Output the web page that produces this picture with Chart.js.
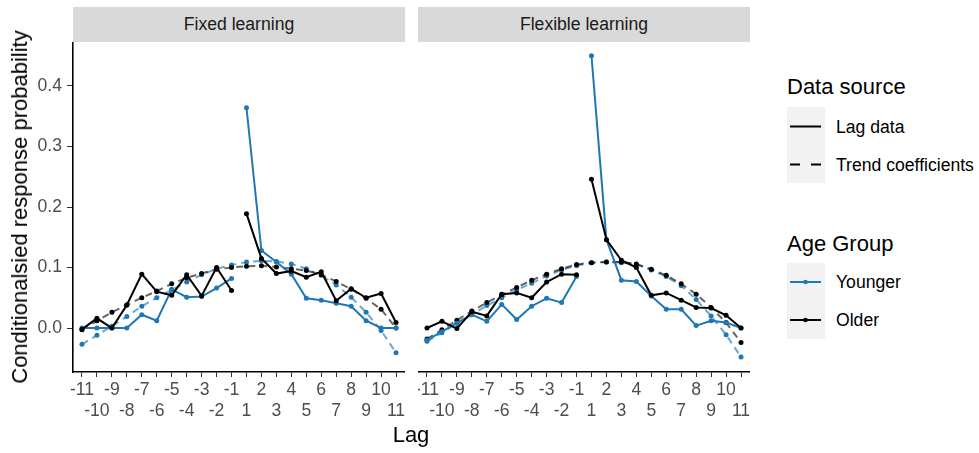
<!DOCTYPE html>
<html>
<head>
<meta charset="utf-8">
<script src="https://cdn.jsdelivr.net/npm/chart.js@4"></script>
<style>
  body { margin: 0; background: #fff; font-family: "Liberation Sans", Arial, sans-serif; }
  #wrap { position: relative; width: 979px; height: 453px; overflow: hidden; }
  .strip { position: absolute; top: 7px; height: 35px; width: 332px; background: #d9d9d9;
           color: #1a1a1a; font-size: 17.6px; line-height: 35px; text-align: center; }
  canvas { position: absolute; top: 42px; }
  .title { position: absolute; font-size: 22px; color: #000; white-space: nowrap; }
  .lab { position: absolute; font-size: 17.6px; color: #000; white-space: nowrap; line-height: 20px; }
  .keybox { position: absolute; left: 787px; width: 38px; height: 76px; background: #f2f2f2; }
</style>
</head>
<body>
<div id="wrap">
  <div class="strip" style="left:73px">Fixed learning</div>
  <div class="strip" style="left:418px">Flexible learning</div>
  <canvas id="fixed" width="405" height="410" style="left:0"></canvas>
  <canvas id="flexible" width="332" height="410" style="left:418px"></canvas>

  <div class="title" style="left:20px; top:207px; transform: translate(-50%,-50%) rotate(-90deg);">Conditionalsied response probability</div>
  <div class="title" style="left:411px; top:435px; transform: translate(-50%,-50%);">Lag</div>

  <!-- legend -->
  <div class="title" style="left:787px; top:74px;">Data source</div>
  <div class="keybox" style="top:107px"></div>
  <svg style="position:absolute; left:787px; top:107px" width="38" height="76">
    <line x1="3" y1="19.5" x2="34" y2="19.5" stroke="#000" stroke-width="2"/>
    <line x1="3" y1="57.5" x2="34" y2="57.5" stroke="#000" stroke-width="2" stroke-dasharray="10,11"/>
  </svg>
  <div class="lab" style="left:836px; top:117px;">Lag data</div>
  <div class="lab" style="left:836px; top:155px;">Trend coefficients</div>

  <div class="title" style="left:787px; top:231px;">Age Group</div>
  <div class="keybox" style="top:263px"></div>
  <svg style="position:absolute; left:787px; top:263px" width="38" height="76">
    <line x1="3" y1="19" x2="34" y2="19" stroke="#1f78b4" stroke-width="2"/>
    <circle cx="18.5" cy="19" r="2.3" fill="#1f78b4"/>
    <line x1="3" y1="57" x2="34" y2="57" stroke="#000" stroke-width="2"/>
    <circle cx="18.5" cy="57" r="2.3" fill="#000"/>
  </svg>
  <div class="lab" style="left:836px; top:272px;">Younger</div>
  <div class="lab" style="left:836px; top:310px;">Older</div>
</div>

<script>
// x軸のラグ
const lags = [-11, -10, -9, -8, -7, -6, -5, -4, -3, -2, -1, 1, 2, 3, 4, 5, 6, 7, 8, 9, 10, 11];
const yTicks = [0, 0.1, 0.2, 0.3, 0.4];

// Fixed learning
const fixedYoungerLag   = [0, 0, 0, 0, 0.022, 0.012, 0.064, 0.051, 0.052, 0.066, 0.082, 0.364, 0.128, 0.109, 0.089, 0.049, 0.046, 0.041, 0.036, 0.012, 0, 0];
const fixedYoungerTrend = [-0.027, -0.012, 0.003, 0.019, 0.036, 0.050, 0.063, 0.076, 0.088, 0.098, 0.104, 0.109, 0.111, 0.110, 0.106, 0.098, 0.087, 0.071, 0.051, 0.026, -0.004, -0.041];
const fixedOlderLag     = [-0.002, 0.016, 0, 0.038, 0.089, 0.060, 0.054, 0.088, 0.053, 0.100, 0.062, 0.189, 0.115, 0.090, 0.094, 0.084, 0.093, 0.045, 0.065, 0.050, 0.057, 0.009];
const fixedOlderTrend   = [-0.003, 0.012, 0.026, 0.038, 0.050, 0.061, 0.073, 0.083, 0.090, 0.097, 0.100, 0.102, 0.103, 0.101, 0.098, 0.095, 0.088, 0.077, 0.064, 0.049, 0.031, 0];

// Flexible learning
const flexibleYoungerLag   = [-0.020, -0.006, 0.008, 0.022, 0.011, 0.039, 0.014, 0.036, 0.049, 0.042, 0.085, 0.450, 0.146, 0.079, 0.077, 0.053, 0.031, 0.031, 0.004, 0.012, 0.009, 0];
const flexibleYoungerTrend = [-0.022, -0.008, 0.008, 0.022, 0.037, 0.050, 0.063, 0.074, 0.086, 0.096, 0.103, 0.108, 0.109, 0.108, 0.105, 0.096, 0.085, 0.070, 0.047, 0.020, -0.011, -0.048];
const flexibleOlderLag     = [0, 0.011, -0.001, 0.027, 0.020, 0.056, 0.058, 0.050, 0.076, 0.089, 0.088, 0.246, 0.146, 0.112, 0.100, 0.054, 0.058, 0.046, 0.034, 0.033, 0.021, 0];
const flexibleOlderTrend   = [-0.018, -0.003, 0.013, 0.028, 0.042, 0.055, 0.067, 0.079, 0.089, 0.098, 0.105, 0.108, 0.109, 0.109, 0.106, 0.097, 0.087, 0.073, 0.056, 0.034, 0.009, -0.024];

const BLUE = '#1f78b4';
const BLUE_FADE = 'rgba(31,120,180,0.65)';
const BLACK = '#000000';
const BLACK_FADE = 'rgba(0,0,0,0.6)';
const TICK_FONT = { family: '"Liberation Sans", Arial, sans-serif', size: 17.6 };

function toPoints(values) {
  return values.map(function(v, i) { return { x: i, y: v }; });
}

// lag data は -1 と 1 の間をつながない
function lagSet(values, color) {
  return {
    data: toPoints(values),
    borderColor: color,
    backgroundColor: color,
    borderWidth: 2,
    pointRadius: 2.5,
    pointBorderWidth: 0,
    pointHoverRadius: 0,
    tension: 0,
    segment: {
      borderColor: function(ctx) { return ctx.p0DataIndex === 10 ? 'rgba(0,0,0,0)' : undefined; }
    }
  };
}

function trendSet(values, lineColor, pointColor) {
  return {
    data: toPoints(values),
    borderColor: lineColor,
    backgroundColor: pointColor,
    pointBackgroundColor: pointColor,
    borderWidth: 2,
    borderDash: [7, 5],
    pointRadius: 2.5,
    pointBorderWidth: 0,
    pointHoverRadius: 0,
    tension: 0
  };
}

function makePanel(id, olderLag, youngerLag, olderTrend, youngerTrend, showY) {
  const ctx = document.getElementById(id).getContext('2d');
  return new Chart(ctx, {
    type: 'line',
    data: {
      datasets: [
        lagSet(olderLag, BLACK),
        lagSet(youngerLag, BLUE),
        trendSet(olderTrend, BLACK_FADE, BLACK),
        trendSet(youngerTrend, BLUE_FADE, BLUE)
      ]
    },
    options: {
      responsive: false,
      animation: false,
      devicePixelRatio: 1,
      layout: { padding: 0, autoPadding: false },
      plugins: { legend: { display: false }, tooltip: { enabled: false } },
      scales: {
        x: {
          type: 'linear',
          min: -0.6,
          max: 21.6,
          afterBuildTicks: function(s) { s.ticks = lags.map(function(_, i) { return { value: i }; }); },
          afterFit: function(s) { s.height = 80; s.paddingLeft = 0; s.paddingRight = 0; },
          ticks: {
            autoSkip: false,
            maxRotation: 0,
            minRotation: 0,
            padding: 3,
            color: '#4d4d4d',
            font: Object.assign({ lineHeight: 21 / 17.6 }, TICK_FONT),
            callback: function(v) {
              const i = Math.round(v);
              return i % 2 === 0 ? [String(lags[i]), ''] : ['', String(lags[i])];
            }
          },
          grid: { display: true, drawOnChartArea: false, drawTicks: true, tickLength: 5, color: '#333333', lineWidth: 1 },
          border: { display: true, color: '#000000', width: 1.6 }
        },
        y: {
          display: showY,
          min: -0.0727,
          max: 0.4727,
          afterBuildTicks: function(s) { s.ticks = yTicks.map(function(v) { return { value: v }; }); },
          afterFit: function(s) { s.width = showY ? 73 : 0; s.paddingTop = 0; s.paddingBottom = 0; },
          ticks: {
            padding: 5,
            color: '#4d4d4d',
            font: TICK_FONT,
            callback: function(v) { return v.toFixed(1); }
          },
          grid: { display: true, drawOnChartArea: false, drawTicks: true, tickLength: 6, color: '#333333', lineWidth: 1 },
          border: { display: true, color: '#000000', width: 1.6 }
        }
      }
    }
  });
}

makePanel('fixed', fixedOlderLag, fixedYoungerLag, fixedOlderTrend, fixedYoungerTrend, true);
makePanel('flexible', flexibleOlderLag, flexibleYoungerLag, flexibleOlderTrend, flexibleYoungerTrend, false);
</script>
</body>
</html>
